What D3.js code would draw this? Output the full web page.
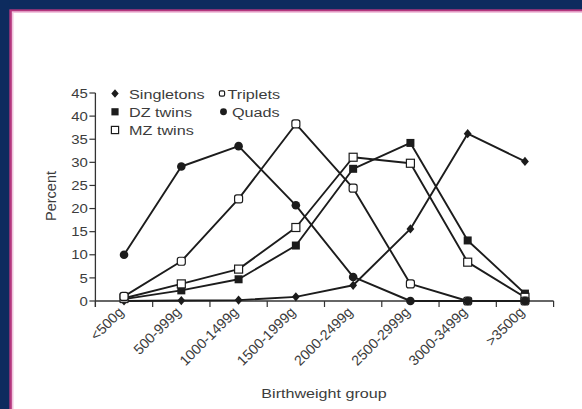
<!DOCTYPE html>
<html>
<head>
<meta charset="utf-8">
<script src="https://cdn.jsdelivr.net/npm/d3@7/dist/d3.min.js"></script>
<style>
  html, body { margin: 0; padding: 0; background: #ffffff; }
  svg { display: block; }
  text { font-family: "Liberation Sans", Arial, sans-serif; fill: #3c3c3c; }
</style>
</head>
<body>
<svg id="chart" width="582" height="409"></svg>
<script>
const categories = ["<500g", "500-999g", "1000-1499g", "1500-1999g", "2000-2499g", "2500-2999g", "3000-3499g", ">3500g"];
const singletons = [0, 0.1, 0.2, 0.9, 3.4, 15.6, 36.2, 30.2];
const dzTwins    = [0.4, 2.3, 4.7, 12.0, 28.6, 34.2, 13.1, 1.6];
const mzTwins    = [0.6, 3.7, 6.9, 15.9, 31.1, 29.8, 8.4, 0.8];
const triplets   = [1.0, 8.6, 22.1, 38.3, 24.4, 3.7, 0, 0];
const quads      = [10.0, 29.1, 33.5, 20.7, 5.2, 0, 0, 0];
const yTicks     = [0, 5, 10, 15, 20, 25, 30, 35, 40, 45];
const seriesNames = ["Singletons", "DZ twins", "MZ twins", "Triplets", "Quads"];

const svg = d3.select("#chart");
const W = 582, H = 409;
const navy = "#0d2b5e", magenta = "#b4377e", pink = "#f2c4de";
const ink = "#1c1c1c";

// frame (top and left only)
svg.append("rect").attr("x", 0).attr("y", 0).attr("width", W).attr("height", H).attr("fill", "#ffffff");
svg.append("rect").attr("x", 9).attr("y", 11).attr("width", W - 9).attr("height", 2).attr("fill", pink);
svg.append("rect").attr("x", 11).attr("y", 9).attr("width", 2.5).attr("height", H - 9).attr("fill", pink);
svg.append("rect").attr("x", 9).attr("y", 9).attr("width", W - 9).attr("height", 2.3).attr("fill", magenta);
svg.append("rect").attr("x", 9).attr("y", 9).attr("width", 2.8).attr("height", H - 9).attr("fill", magenta);
svg.append("rect").attr("x", 0).attr("y", 0).attr("width", W).attr("height", 9.3).attr("fill", navy);
svg.append("rect").attr("x", 0).attr("y", 0).attr("width", 9.3).attr("height", H).attr("fill", navy);

// scales
const x = d3.scaleBand().domain(categories).range([95.4, 553.6]).padding(0);
const cx = c => x(c) + x.bandwidth() / 2;
const y = d3.scaleLinear().domain([0, 45]).range([301, 93]);

const g = svg.append("g");

// y axis
g.append("line").attr("x1", x.range()[0]).attr("x2", x.range()[0])
  .attr("y1", y(0) + 6).attr("y2", y(45)).attr("stroke", "#333").attr("stroke-width", 1.3);
g.selectAll(".ytick").data(yTicks).enter().append("line")
  .attr("x1", x.range()[0] - 6).attr("x2", x.range()[0])
  .attr("y1", d => y(d)).attr("y2", d => y(d))
  .attr("stroke", "#333").attr("stroke-width", 1.2);
g.selectAll(".ylab").data(yTicks).enter().append("text")
  .attr("transform", d => `translate(${x.range()[0] - 7.5},${y(d) + 4.7}) scale(1.15,1)`)
  .attr("text-anchor", "end").attr("font-size", 13).text(d => d);

// x axis
g.append("line").attr("x1", x.range()[0]).attr("x2", x.range()[1])
  .attr("y1", y(0)).attr("y2", y(0)).attr("stroke", "#333").attr("stroke-width", 1.3);
const bounds = categories.map(c => x(c)).concat([x.range()[1]]);
g.selectAll(".xtick").data(bounds).enter().append("line")
  .attr("x1", d => d).attr("x2", d => d)
  .attr("y1", y(0)).attr("y2", y(0) + 6)
  .attr("stroke", "#333").attr("stroke-width", 1.2);
g.selectAll(".xlab").data(categories).enter().append("text")
  .attr("transform", d => `translate(${cx(d) + 0.5},${y(0) + 12}) rotate(-45)`)
  .attr("text-anchor", "end").attr("font-size", 14.2).text(d => d);

// axis titles
g.append("text").attr("transform", `translate(324,398) scale(1.22,1)`)
  .attr("text-anchor", "middle").attr("font-size", 13.2).text("Birthweight group");
g.append("text").attr("transform", `translate(56,196) rotate(-90)`)
  .attr("text-anchor", "middle").attr("font-size", 14.5).text("Percent");

// series
const line = d3.line().x((d, i) => cx(categories[i])).y(d => y(d));
const allSeries = [
  { name: seriesNames[0], values: singletons, shape: "diamond" },
  { name: seriesNames[1], values: dzTwins, shape: "fsquare" },
  { name: seriesNames[2], values: mzTwins, shape: "osquare" },
  { name: seriesNames[3], values: triplets, shape: "ocircle" },
  { name: seriesNames[4], values: quads, shape: "fcircle" }
];

allSeries.forEach(s => {
  g.append("path").datum(s.values).attr("d", line)
    .attr("fill", "none").attr("stroke", ink).attr("stroke-width", 1.9)
    .attr("stroke-linejoin", "round");
});

function marker(sel, shape, px, py, scale) {
  const k = scale || 1;
  if (shape === "diamond") {
    const r = 4.6 * k;
    sel.append("path").attr("d", `M${px},${py - r}L${px + r * 0.85},${py}L${px},${py + r}L${px - r * 0.85},${py}Z`)
      .attr("fill", ink);
  } else if (shape === "fsquare") {
    const s = 8 * k;
    sel.append("rect").attr("x", px - s / 2).attr("y", py - s / 2).attr("width", s).attr("height", s).attr("fill", ink);
  } else if (shape === "osquare") {
    const s = 8 * k;
    sel.append("rect").attr("x", px - s / 2).attr("y", py - s / 2).attr("width", s).attr("height", s)
      .attr("fill", "#fff").attr("stroke", ink).attr("stroke-width", 1.2);
  } else if (shape === "ocircle") {
    sel.append("rect").attr("x", px - 4 * k).attr("y", py - 4 * k).attr("width", 8 * k).attr("height", 8 * k)
      .attr("rx", 2.2 * k)
      .attr("fill", "#fff").attr("stroke", ink).attr("stroke-width", 1.2);
  } else if (shape === "fcircle") {
    sel.append("circle").attr("cx", px).attr("cy", py).attr("r", 4.3 * k).attr("fill", ink);
  }
}

allSeries.forEach(s => {
  s.values.forEach((v, i) => marker(g, s.shape, cx(categories[i]), y(v)));
});

// legend
const leg = svg.append("g");
const legendItems = [
  { name: seriesNames[0], shape: "diamond", mx: 115, tx: 129, cy: 93.5, k: 0.95 },
  { name: seriesNames[1], shape: "fsquare", mx: 115, tx: 129, cy: 111.8, k: 0.9 },
  { name: seriesNames[2], shape: "osquare", mx: 115, tx: 129, cy: 130, k: 0.9 },
  { name: seriesNames[3], shape: "ocircle", mx: 222, tx: 227.5, cy: 93.5, k: 0.65 },
  { name: seriesNames[4], shape: "fcircle", mx: 223.5, tx: 232, cy: 111.8, k: 0.8 }
];
legendItems.forEach(it => {
  marker(leg, it.shape, it.mx, it.cy, it.k);
  leg.append("text").attr("transform", `translate(${it.tx},${it.cy + 5}) scale(1.2,1)`)
    .attr("font-size", 13.5).text(it.name);
});
</script>
</body>
</html>
